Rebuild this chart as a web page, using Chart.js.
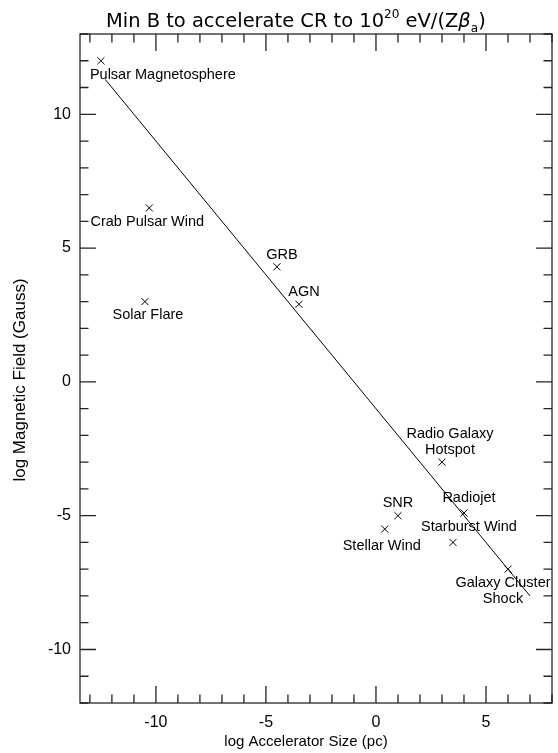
<!DOCTYPE html>
<html>
<head>
<meta charset="utf-8">
<script src="https://cdn.jsdelivr.net/npm/chart.js@4.4.1/dist/chart.umd.min.js"></script>
<style>
  html, body { margin: 0; padding: 0; background: #fff; }
  #wrap { width: 558px; height: 753px; }
</style>
</head>
<body>
<div id="wrap"><canvas id="hillasChart"></canvas></div>
<script>
// Source classes and their (log size, log B) positions
const sources = ['Pulsar Magnetosphere', 'Crab Pulsar Wind', 'Solar Flare', 'GRB', 'AGN',
  'Radio Galaxy\nHotspot', 'Radiojet', 'SNR', 'Stellar Wind', 'Starburst Wind', 'Galaxy Cluster\nShock'];
const logSize = [-12.5, -10.3, -10.5, -4.5, -3.5, 3, 4, 1, 0.4, 3.5, 6];
const logField = [12, 6.5, 3, 4.3, 2.9, -3, -4.9, -5, -5.5, -6, -7];

// Hillas line
const lineSize = [-12.3, 7];
const lineField = [11.3, -8];

const xTicks = [-10, -5, 0, 5];
const yTicks = [-10, -5, 0, 5, 10];

// where each name sits relative to its marker (px)
const labelPlacement = [
  { dx: -11, dy: 14, align: 'left' },
  { dx: -2, dy: 14 },
  { dx: 3, dy: 13 },
  { dx: 5, dy: -12 },
  { dx: 5, dy: -12 },
  { dx: 8, dy: -28 },
  { dx: 5, dy: -15 },
  { dx: 0, dy: -13 },
  { dx: -3, dy: 17 },
  { dx: 16, dy: -15 },
  { dx: -5, dy: 14 }
];

const labelFont = '14.5px "Liberation Sans", Arial, sans-serif';

const pointLabels = {
  id: 'pointLabels',
  afterDatasetsDraw(chart) {
    const ctx = chart.ctx;
    const meta = chart.getDatasetMeta(0);
    ctx.save();
    ctx.font = labelFont;
    ctx.fillStyle = '#000';
    ctx.textBaseline = 'middle';
    meta.data.forEach(function(pt, i) {
      const p = labelPlacement[i];
      ctx.textAlign = p.align || 'center';
      sources[i].split('\n').forEach(function(line, k) {
        ctx.fillText(line, pt.x + p.dx, pt.y + p.dy + k * 16);
      });
    });
    ctx.restore();
  }
};

// IDL style frame with inward ticks on all four sides
const frameAndTicks = {
  id: 'frameAndTicks',
  afterDraw(chart) {
    const { ctx, chartArea: a, scales: { x, y } } = chart;
    ctx.save();
    ctx.strokeStyle = '#444';
    ctx.lineWidth = 1.5;
    ctx.strokeRect(a.left, a.top, a.right - a.left, a.bottom - a.top);
    ctx.strokeStyle = '#222';
    ctx.lineWidth = 1.3;
    ctx.beginPath();
    for (let v = Math.ceil(x.min); v <= Math.floor(x.max); v++) {
      const px = x.getPixelForValue(v);
      const len = v % 5 === 0 ? 17 : 8.5;
      ctx.moveTo(px, a.bottom); ctx.lineTo(px, a.bottom - len);
      ctx.moveTo(px, a.top); ctx.lineTo(px, a.top + len);
    }
    for (let v = Math.ceil(y.min); v <= Math.floor(y.max); v++) {
      const py = y.getPixelForValue(v);
      const len = v % 5 === 0 ? 16 : 8.5;
      ctx.moveTo(a.left, py); ctx.lineTo(a.left + len, py);
      ctx.moveTo(a.right, py); ctx.lineTo(a.right - len, py);
    }
    ctx.stroke();

    // axis titles
    ctx.fillStyle = '#000';
    ctx.textAlign = 'center';
    ctx.textBaseline = 'middle';
    ctx.font = '15px "Liberation Sans", Arial, sans-serif';
    ctx.fillText('log Accelerator Size (pc)', 306, 742);
    ctx.font = '17px "Liberation Sans", Arial, sans-serif';
    ctx.translate(20, 380);
    ctx.rotate(-Math.PI / 2);
    ctx.fillText('log Magnetic Field (Gauss)', 0, 0);
    ctx.restore();
  }
};

// title with superscript / subscript
const titlePieces = [
  { text: 'Min B to accelerate CR to 10', scale: 1, rise: 0 },
  { text: '20', scale: 0.62, rise: -0.48 },
  { text: ' eV/(Z', scale: 1, rise: 0 },
  { text: '\u03B2', scale: 1, rise: 0, style: 'italic ' },
  { text: 'a', scale: 0.62, rise: 0.25 },
  { text: ')', scale: 1, rise: 0 }
];

const plotTitle = {
  id: 'plotTitle',
  afterDraw(chart) {
    const ctx = chart.ctx;
    const family = '"DejaVu Sans", sans-serif';
    const setFont = function(pc, size) {
      ctx.font = (pc.style || '') + (size * pc.scale) + 'px ' + family;
    };
    ctx.save();
    let total = 0;
    titlePieces.forEach(function(pc) { setFont(pc, 16); total += ctx.measureText(pc.text).width; });
    const size = 16 * 380 / total;
    let x = 106;
    const base = 27;
    ctx.fillStyle = '#000';
    ctx.textBaseline = 'alphabetic';
    ctx.textAlign = 'left';
    titlePieces.forEach(function(pc) {
      setFont(pc, size);
      ctx.fillText(pc.text, x, base + pc.rise * size);
      x += ctx.measureText(pc.text).width;
    });
    ctx.restore();
  }
};

document.addEventListener('DOMContentLoaded', function() {
  const ctx = document.getElementById('hillasChart').getContext('2d');
  const tickFont = { family: '"Liberation Sans", Arial, sans-serif', size: 16 };

  new Chart(ctx, {
    type: 'scatter',
    data: {
      datasets: [{
        data: logSize.map(function(v, i) { return { x: v, y: logField[i] }; }),
        pointStyle: 'crossRot',
        pointRadius: 5,
        borderColor: '#000',
        borderWidth: 1
      }, {
        type: 'line',
        data: lineSize.map(function(v, i) { return { x: v, y: lineField[i] }; }),
        borderColor: '#000',
        borderWidth: 1,
        pointRadius: 0,
        fill: false
      }]
    },
    options: {
      responsive: true,
      maintainAspectRatio: false,
      animation: false,
      layout: { padding: { top: 34, right: 6, left: 0, bottom: 0 } },
      plugins: {
        legend: { display: false },
        tooltip: { enabled: false }
      },
      scales: {
        x: {
          type: 'linear',
          min: -13.45,
          max: 8,
          grid: { display: false, drawTicks: false },
          border: { display: false },
          afterBuildTicks: function(scale) { scale.ticks = xTicks.map(function(v) { return { value: v }; }); },
          afterFit: function(scale) { scale.height = 50; },
          ticks: { color: '#000', font: tickFont, padding: 10, maxRotation: 0 }
        },
        y: {
          type: 'linear',
          min: -12,
          max: 13,
          grid: { display: false, drawTicks: false },
          border: { display: false },
          afterBuildTicks: function(scale) { scale.ticks = yTicks.map(function(v) { return { value: v }; }); },
          afterFit: function(scale) { scale.width = 80; },
          ticks: { color: '#000', font: tickFont, padding: 9 }
        }
      }
    },
    plugins: [pointLabels, frameAndTicks, plotTitle]
  });
});
</script>
</body>
</html>
